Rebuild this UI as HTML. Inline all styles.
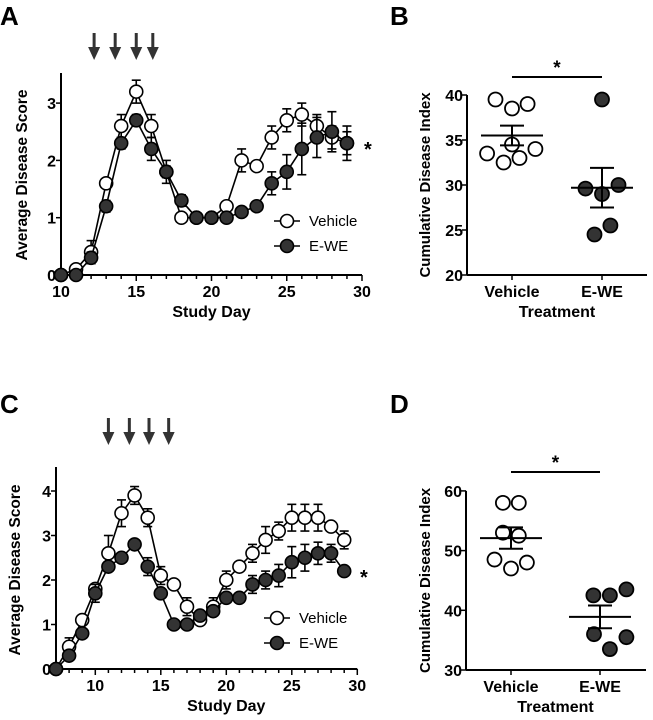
<!DOCTYPE html>
<html><head><meta charset="utf-8"><style>
body{margin:0;background:#fff;}
svg{display:block;font-family:"Liberation Sans",Arial,sans-serif;font-weight:bold;}
</style></head><body>
<svg id="fig" width="653" height="720" viewBox="0 0 653 720" xmlns="http://www.w3.org/2000/svg">
<text x="0" y="25" font-size="26">A</text>
<text x="390" y="25" font-size="26">B</text>
<text x="0" y="413" font-size="26">C</text>
<text x="390" y="413" font-size="26">D</text>
</svg>
<script>
// Panel A data
const daysA=[10,11,12,13,14,15,16,17,18,19,20,21,22,23,24,25,26,27,28,29];
const vehA=[0,0.1,0.4,1.6,2.6,3.2,2.6,1.8,1.0,1.0,1.0,1.2,2.0,1.9,2.4,2.7,2.8,2.6,2.4,2.3];
const vehAErr=[0,0,0.2,0,0.2,0.2,0.2,0.1,0,0,0,0,0.2,0,0.2,0.2,0.2,0.2,0.2,0.2];
const eweA=[0,0,0.3,1.2,2.3,2.7,2.2,1.8,1.3,1.0,1.0,1.0,1.1,1.2,1.6,1.8,2.2,2.4,2.5,2.3];
const eweAErr=[0,0,0.1,0.1,0.1,0.1,0.2,0.2,0.1,0,0,0,0,0,0.2,0.3,0.45,0.35,0.35,0.3];
const arrowsA=[12.2,13.6,15,16.1];
const yTicksA=[0,1,2,3];
const xTicksA=[10,15,20,25,30];
// Panel C data
const daysC=[7,8,9,10,11,12,13,14,15,16,17,18,19,20,21,22,23,24,25,26,27,28,29];
const vehC=[0,0.5,1.1,1.8,2.6,3.5,3.9,3.4,2.1,1.9,1.4,1.1,1.4,2.0,2.3,2.6,2.9,3.1,3.4,3.4,3.4,3.2,2.9];
const vehCErr=[0,0.2,0.1,0.1,0.4,0.3,0.2,0.2,0.2,0,0.2,0.1,0.2,0.2,0.1,0.2,0.3,0.2,0.3,0.3,0.3,0.1,0.2];
const eweC=[0,0.3,0.8,1.7,2.3,2.5,2.8,2.3,1.7,1.0,1.0,1.2,1.3,1.6,1.6,1.9,2.0,2.1,2.4,2.5,2.6,2.6,2.2];
const eweCErr=[0,0,0.1,0.2,0.1,0,0,0.2,0.1,0,0,0.1,0.1,0,0,0.2,0.2,0.25,0.35,0.3,0.25,0.2,0];
const arrowsC=[11,12.6,14.1,15.6];
const yTicksC=[0,1,2,3,4];
const xTicksC=[10,15,20,25,30];
// Panel B data
const groups=["Vehicle","E-WE"];
const vehB=[39.5,38.5,39,33.5,32.5,33,34,34.5];
const vehBJit=[-0.55,0,0.52,-0.83,-0.28,0.25,0.78,0];
const eweB=[39.5,29.6,29,30,25.5,24.5];
const eweBJit=[0,-0.55,0,0.55,0.28,-0.25];
const meanB=[35.5,29.7];
const semB=[1.1,2.2];
const yTicksB=[20,25,30,35,40];
// Panel D data
const vehD=[58,58,53,52.5,48.5,47,48];
const vehDJit=[-0.27,0.26,-0.27,0.26,-0.55,0,0.53];
const eweD=[42.5,42.5,43.5,36,35.5,33.5];
const eweDJit=[-0.22,0.33,0.88,-0.2,0.88,0.33];
const meanD=[52.1,38.9];
const semD=[1.8,1.9];
const yTicksD=[30,40,50,60];

const NS="http://www.w3.org/2000/svg";
const svg=document.getElementById('fig');
function el(tag,attrs,parent){const e=document.createElementNS(NS,tag);for(const k in attrs)e.setAttribute(k,attrs[k]);(parent||svg).appendChild(e);return e;}

function linePanel(p){
  const g=el('g',{});
  
  
  const sx=d=>p.x0+(d-p.xmin)*p.xs, sy=v=>p.y0-v*p.ys;
  const ya=el('line',{x1:p.x0,y1:p.ytop,x2:p.x0,y2:p.y0,stroke:'#000','stroke-width':2},g);
  
  const xa=el('line',{x1:p.x0,y1:p.y0,x2:sx(30),y2:p.y0,stroke:'#000','stroke-width':2},g);
  
  for(let d=Math.ceil(p.xmin);d<=30;d++){
    const major=d%5===0;
    el('line',{x1:sx(d),y1:p.y0,x2:sx(d),y2:p.y0+(major?6:4),stroke:'#000','stroke-width':1.5},g);
  }
  p.xt.forEach(t=>{const tx=el('text',{x:sx(t),y:p.y0+22,'font-size':16,'text-anchor':'middle'},g);tx.textContent=t;
    });
  p.yt.forEach(t=>{el('line',{x1:p.x0-5,y1:sy(t),x2:p.x0,y2:sy(t),stroke:'#000','stroke-width':1.5},g);
    const tx=el('text',{x:p.x0-5,y:sy(t)+6,'font-size':16,'text-anchor':'end'},g);tx.textContent=t;
    });
  const yl=el('text',{x:0,y:0,'font-size':15.5,'text-anchor':'middle',transform:`translate(${p.ylx},${p.yly}) rotate(-90)`},g);
  yl.textContent='Average Disease Score';
  const xl=el('text',{x:sx(20),y:p.y0+42,'font-size':16,'text-anchor':'middle'},g);
  xl.textContent='Study Day';
  p.arrows.forEach(a=>{
    const ag=el('g',{},g);
    el('line',{x1:sx(a),y1:p.ay,x2:sx(a),y2:p.ay+18,stroke:'#333','stroke-width':3},ag);
    el('polygon',{points:`${sx(a)-6},${p.ay+14} ${sx(a)+6},${p.ay+14} ${sx(a)},${p.ay+27}`,fill:'#333'},ag);
  });
  p.series.forEach(s=>{
    const sg=el('g',{},g);
    el('polyline',{points:p.days.map((d,i)=>sx(d)+','+sy(s.v[i])).join(' '),fill:'none',stroke:'#000','stroke-width':1.6},sg);
    p.days.forEach((d,i)=>{ if(s.e[i]>0){
      const x=sx(d),y1=sy(s.v[i]+s.e[i]),y2=sy(s.v[i]-s.e[i]);
      el('line',{x1:x,y1:y1,x2:x,y2:y2,stroke:'#000','stroke-width':1.6},sg);
      el('line',{x1:x-4.5,y1:y1,x2:x+4.5,y2:y1,stroke:'#000','stroke-width':1.6},sg);
      el('line',{x1:x-4.5,y1:y2,x2:x+4.5,y2:y2,stroke:'#000','stroke-width':1.6},sg);}});
    p.days.forEach((d,i)=>{const c=el('circle',{cx:sx(d),cy:sy(s.v[i]),r:6.5,fill:s.fill,stroke:'#000','stroke-width':1.6},sg);
      });
  });
  p.series.forEach((s,i)=>{
    const lg=el('g',{},g);
    const y=p.ly+i*25;
    el('line',{x1:p.lx-13,y1:y,x2:p.lx+13,y2:y,stroke:'#000','stroke-width':1.6},lg);
    el('circle',{cx:p.lx,cy:y,r:6.5,fill:s.fill,stroke:'#000','stroke-width':1.6},lg);
    const t=el('text',{x:p.lx+22,y:y+5,'font-size':15,'font-weight':'normal'},lg);t.textContent=s.label;
  });
  const st=el('text',{x:p.sx,y:p.sy,'font-size':20},g);st.textContent='*';
  
}

function dotPanel(p){
  const g=el('g',{});
  
  const sy=v=>p.y0-(v-p.ymin)*p.ys;
  const gx=[p.gx0,p.gx1];
  const ya=el('line',{x1:p.x0,y1:sy(p.ymax),x2:p.x0,y2:p.y0,stroke:'#000','stroke-width':2},g);
  
  const xa=el('line',{x1:p.x0,y1:p.y0,x2:p.x1,y2:p.y0,stroke:'#000','stroke-width':2},g);
  
  p.yt.forEach(t=>{el('line',{x1:p.x0-5,y1:sy(t),x2:p.x0,y2:sy(t),stroke:'#000','stroke-width':1.5},g);
    const tx=el('text',{x:p.x0-4,y:sy(t)+6,'font-size':16,'text-anchor':'end'},g);tx.textContent=t;
    });
  groups.forEach((n,i)=>{el('line',{x1:gx[i],y1:p.y0,x2:gx[i],y2:p.y0+5,stroke:'#000','stroke-width':1.5},g);
    const tx=el('text',{x:gx[i],y:p.y0+22,'font-size':16,'text-anchor':'middle'},g);tx.textContent=n;
    });
  if(p.xlab){const t=el('text',{x:(gx[0]+gx[1])/2,y:p.y0+42,'font-size':16,'text-anchor':'middle'},g);t.textContent='Treatment';
    }
  const yl=el('text',{x:0,y:0,'font-size':15,'text-anchor':'middle',transform:`translate(${p.ylx},${sy((p.ymin+p.ymax)/2)}) rotate(-90)`},g);
  yl.textContent='Cumulative Disease Index';
  [[p.veh,p.vj,'#fff'],[p.ewe,p.ej,'#333']].forEach((s,i)=>{
    s[0].forEach((v,k)=>{const c=el('circle',{cx:gx[i]+s[1][k]*30,cy:sy(v),r:7,fill:s[2],stroke:'#000','stroke-width':1.8},g);
      });
  });
  groups.forEach((n,i)=>{
    const mg=el('g',{},g);
    const x=gx[i],m=p.mean[i],e=p.sem[i];
    el('line',{x1:x-31,y1:sy(m),x2:x+31,y2:sy(m),stroke:'#000','stroke-width':2},mg);
    el('line',{x1:x,y1:sy(m+e),x2:x,y2:sy(m-e),stroke:'#000','stroke-width':2},mg);
    el('line',{x1:x-12,y1:sy(m+e),x2:x+12,y2:sy(m+e),stroke:'#000','stroke-width':2},mg);
    el('line',{x1:x-12,y1:sy(m-e),x2:x+12,y2:sy(m-e),stroke:'#000','stroke-width':2},mg);
  });
  const sl=el('line',{x1:gx[0],y1:p.sigy,x2:gx[1],y2:p.sigy,stroke:'#000','stroke-width':2},g);
  
  const st=el('text',{x:(gx[0]+gx[1])/2,y:p.sigy-3,'font-size':19,'text-anchor':'middle'},g);st.textContent='*';
  
}

linePanel({name:'panel-a-chart',x0:61,y0:275,xmin:10,xs:15.05,ys:57.3,ytop:73,days:daysA,
  series:[{name:'series-vehicle',label:'Vehicle',v:vehA,e:vehAErr,fill:'#fff'},{name:'series-e-we',label:'E-WE',v:eweA,e:eweAErr,fill:'#333'}],
  arrows:arrowsA,ay:33,yt:yTicksA,xt:xTicksA,ylx:27,yly:175,lx:287,ly:221,sx:364,sy:156});
linePanel({name:'panel-c-chart',x0:56,y0:669,xmin:7,xs:13.1,ys:44.5,ytop:467,days:daysC,
  series:[{name:'series-vehicle',label:'Vehicle',v:vehC,e:vehCErr,fill:'#fff'},{name:'series-e-we',label:'E-WE',v:eweC,e:eweCErr,fill:'#333'}],
  arrows:arrowsC,ay:418,yt:yTicksC,xt:xTicksC,ylx:20,yly:570,lx:277,ly:618,sx:360,sy:584});
dotPanel({name:'panel-b-chart',x0:467,x1:647,y0:275,ymin:20,ymax:40,ys:9,gx0:512,gx1:602,
  veh:vehB,vj:vehBJit,ewe:eweB,ej:eweBJit,mean:meanB,sem:semB,yt:yTicksB,sigy:77,ylx:430,xlab:true});
dotPanel({name:'panel-d-chart',x0:466,x1:646,y0:670,ymin:30,ymax:60,ys:5.97,gx0:511,gx1:600,
  veh:vehD,vj:vehDJit,ewe:eweD,ej:eweDJit,mean:meanD,sem:semD,yt:yTicksD,sigy:472,ylx:430,xlab:true});
</script>
</body></html>
